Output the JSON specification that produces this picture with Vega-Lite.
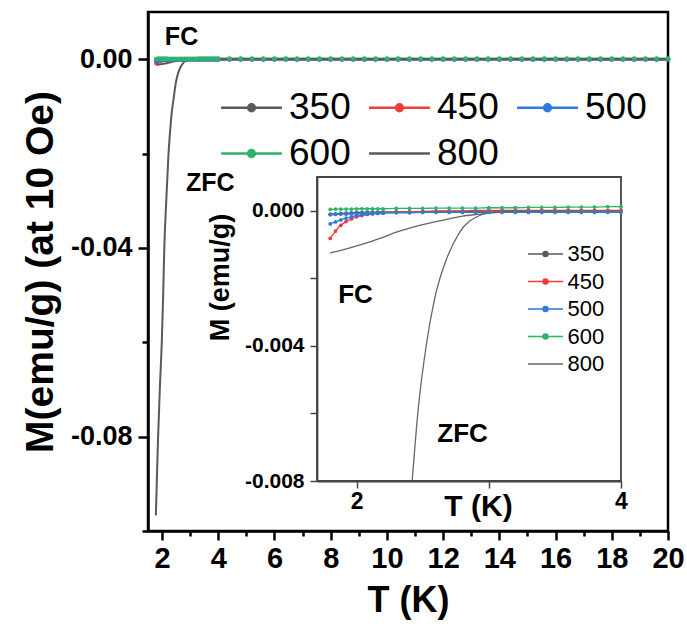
{
"$schema":"https://vega.github.io/schema/vega-lite/v6.json",
"width":520,"height":519,
"autosize":{"type":"none"},
"padding":{"left":148,"top":12,"right":19,"bottom":97},
"config":{"font":"Liberation Sans","view":{"stroke":"black","strokeWidth":2.5},
 "axis":{"grid":false,"domainColor":"black","tickColor":"black","labelColor":"black","titleColor":"black","labelFlush":false,"labelOverlap":false,"labelBound":false}},
"datasets":{
"d":[
{"s":"350","t":1.8,"m":-0.0001},{"s":"350","t":1.84,"m":-0.00009},{"s":"350","t":1.88,"m":-0.00008},{"s":"350","t":1.92,"m":-0.00007},{"s":"350","t":1.96,"m":-0.00006},{"s":"350","t":2.0,"m":-0.00005},{"s":"350","t":2.04,"m":-0.00005},{"s":"350","t":2.08,"m":-0.00004},{"s":"350","t":2.12,"m":-0.00004},{"s":"350","t":2.16,"m":-0.00004},{"s":"350","t":2.2,"m":-0.00003},{"s":"350","t":2.3,"m":-0.00003},{"s":"350","t":2.4,"m":-0.00003},{"s":"350","t":2.5,"m":-0.00003},{"s":"350","t":2.6,"m":-0.00002},{"s":"350","t":2.7,"m":-0.00002},{"s":"350","t":2.8,"m":-0.00002},{"s":"350","t":2.9,"m":-0.00002},{"s":"350","t":3.0,"m":-0.00001},{"s":"350","t":3.1,"m":-0.00001},{"s":"350","t":3.2,"m":-0.00001},{"s":"350","t":3.3,"m":-0.00001},{"s":"350","t":3.4,"m":-0.00001},{"s":"350","t":3.5,"m":0},{"s":"350","t":3.6,"m":0},{"s":"350","t":3.7,"m":0},{"s":"350","t":3.8,"m":0},{"s":"350","t":3.9,"m":0},{"s":"350","t":4.0,"m":0},
{"s":"350","t":4.4,"m":-0.00001},{"s":"350","t":4.8,"m":-0.00002},{"s":"350","t":5.2,"m":-0.00001},{"s":"350","t":5.6,"m":-0.00002},{"s":"350","t":6,"m":-0.00001},{"s":"350","t":6.4,"m":-0.00002},{"s":"350","t":6.8,"m":-0.00001},{"s":"350","t":7.2,"m":-0.00002},{"s":"350","t":7.6,"m":-0.00001},{"s":"350","t":8,"m":-0.00002},{"s":"350","t":8.4,"m":-0.00001},{"s":"350","t":8.8,"m":-0.00002},{"s":"350","t":9.2,"m":-0.00001},{"s":"350","t":9.6,"m":-0.00002},{"s":"350","t":10,"m":-0.00001},{"s":"350","t":10.4,"m":-0.00002},{"s":"350","t":10.8,"m":-0.00001},{"s":"350","t":11.2,"m":-0.00002},{"s":"350","t":11.6,"m":-0.00001},{"s":"350","t":12,"m":-0.00002},{"s":"350","t":12.4,"m":-0.00001},{"s":"350","t":12.8,"m":-0.00002},{"s":"350","t":13.2,"m":-0.00001},{"s":"350","t":13.6,"m":-0.00002},{"s":"350","t":14,"m":-0.00001},{"s":"350","t":14.4,"m":-0.00002},{"s":"350","t":14.8,"m":-0.00001},{"s":"350","t":15.2,"m":-0.00002},{"s":"350","t":15.6,"m":-0.00001},{"s":"350","t":16,"m":-0.00002},{"s":"350","t":16.4,"m":-0.00001},{"s":"350","t":16.8,"m":-0.00002},{"s":"350","t":17.2,"m":-0.00001},{"s":"350","t":17.6,"m":-0.00002},{"s":"350","t":18,"m":-0.00001},{"s":"350","t":18.4,"m":-0.00002},{"s":"350","t":18.8,"m":-0.00001},{"s":"350","t":19.2,"m":-0.00002},{"s":"350","t":19.6,"m":-0.00001},{"s":"350","t":20,"m":-0.00002},
{"s":"450","t":1.8,"m":-0.00082},{"s":"450","t":1.84,"m":-0.0006},{"s":"450","t":1.88,"m":-0.00043},{"s":"450","t":1.92,"m":-0.00032},{"s":"450","t":1.96,"m":-0.00024},{"s":"450","t":2.0,"m":-0.00018},{"s":"450","t":2.04,"m":-0.00014},{"s":"450","t":2.08,"m":-0.00011},{"s":"450","t":2.12,"m":-0.00009},{"s":"450","t":2.16,"m":-0.00007},{"s":"450","t":2.2,"m":-0.00006},{"s":"450","t":2.3,"m":-0.00004},{"s":"450","t":2.4,"m":-0.00003},{"s":"450","t":2.5,"m":-0.00002},{"s":"450","t":2.6,"m":-0.00001},{"s":"450","t":2.7,"m":0},{"s":"450","t":2.8,"m":0},{"s":"450","t":2.9,"m":0.00001},{"s":"450","t":3.0,"m":0.00001},{"s":"450","t":3.1,"m":0.00001},{"s":"450","t":3.2,"m":0.00001},{"s":"450","t":3.3,"m":0.00001},{"s":"450","t":3.4,"m":0.00001},{"s":"450","t":3.5,"m":0.00001},{"s":"450","t":3.6,"m":0.00001},{"s":"450","t":3.7,"m":0.00001},{"s":"450","t":3.8,"m":0.00001},{"s":"450","t":3.9,"m":0.00001},{"s":"450","t":4.0,"m":0.00001},
{"s":"450","t":4.4,"m":0.00001},{"s":"450","t":4.8,"m":0.00002},{"s":"450","t":5.2,"m":0.00001},{"s":"450","t":5.6,"m":0.00002},{"s":"450","t":6,"m":0.00001},{"s":"450","t":6.4,"m":0.00002},{"s":"450","t":6.8,"m":0.00001},{"s":"450","t":7.2,"m":0.00002},{"s":"450","t":7.6,"m":0.00001},{"s":"450","t":8,"m":0.00002},{"s":"450","t":8.4,"m":0.00001},{"s":"450","t":8.8,"m":0.00002},{"s":"450","t":9.2,"m":0.00001},{"s":"450","t":9.6,"m":0.00002},{"s":"450","t":10,"m":0.00001},{"s":"450","t":10.4,"m":0.00002},{"s":"450","t":10.8,"m":0.00001},{"s":"450","t":11.2,"m":0.00002},{"s":"450","t":11.6,"m":0.00001},{"s":"450","t":12,"m":0.00002},{"s":"450","t":12.4,"m":0.00001},{"s":"450","t":12.8,"m":0.00002},{"s":"450","t":13.2,"m":0.00001},{"s":"450","t":13.6,"m":0.00002},{"s":"450","t":14,"m":0.00001},{"s":"450","t":14.4,"m":0.00002},{"s":"450","t":14.8,"m":0.00001},{"s":"450","t":15.2,"m":0.00002},{"s":"450","t":15.6,"m":0.00001},{"s":"450","t":16,"m":0.00002},{"s":"450","t":16.4,"m":0.00001},{"s":"450","t":16.8,"m":0.00002},{"s":"450","t":17.2,"m":0.00001},{"s":"450","t":17.6,"m":0.00002},{"s":"450","t":18,"m":0.00001},{"s":"450","t":18.4,"m":0.00002},{"s":"450","t":18.8,"m":0.00001},{"s":"450","t":19.2,"m":0.00002},{"s":"450","t":19.6,"m":0.00001},{"s":"450","t":20,"m":0.00002},
{"s":"500","t":1.8,"m":-0.00039},{"s":"500","t":1.84,"m":-0.00033},{"s":"500","t":1.88,"m":-0.00027},{"s":"500","t":1.92,"m":-0.00022},{"s":"500","t":1.96,"m":-0.00018},{"s":"500","t":2.0,"m":-0.00014},{"s":"500","t":2.04,"m":-0.00012},{"s":"500","t":2.08,"m":-0.0001},{"s":"500","t":2.12,"m":-0.00009},{"s":"500","t":2.16,"m":-0.00008},{"s":"500","t":2.2,"m":-0.00007},{"s":"500","t":2.3,"m":-0.00006},{"s":"500","t":2.4,"m":-0.00006},{"s":"500","t":2.5,"m":-0.00005},{"s":"500","t":2.6,"m":-0.00005},{"s":"500","t":2.7,"m":-0.00005},{"s":"500","t":2.8,"m":-0.00005},{"s":"500","t":2.9,"m":-0.00005},{"s":"500","t":3.0,"m":-0.00005},{"s":"500","t":3.1,"m":-0.00005},{"s":"500","t":3.2,"m":-0.00005},{"s":"500","t":3.3,"m":-0.00005},{"s":"500","t":3.4,"m":-0.00005},{"s":"500","t":3.5,"m":-0.00005},{"s":"500","t":3.6,"m":-0.00005},{"s":"500","t":3.7,"m":-0.00005},{"s":"500","t":3.8,"m":-0.00005},{"s":"500","t":3.9,"m":-0.00005},{"s":"500","t":4.0,"m":-0.00005},
{"s":"500","t":4.4,"m":-0.00005},{"s":"500","t":4.8,"m":-0.00006},{"s":"500","t":5.2,"m":-0.00005},{"s":"500","t":5.6,"m":-0.00006},{"s":"500","t":6,"m":-0.00005},{"s":"500","t":6.4,"m":-0.00006},{"s":"500","t":6.8,"m":-0.00005},{"s":"500","t":7.2,"m":-0.00006},{"s":"500","t":7.6,"m":-0.00005},{"s":"500","t":8,"m":-0.00006},{"s":"500","t":8.4,"m":-0.00005},{"s":"500","t":8.8,"m":-0.00006},{"s":"500","t":9.2,"m":-0.00005},{"s":"500","t":9.6,"m":-0.00006},{"s":"500","t":10,"m":-0.00005},{"s":"500","t":10.4,"m":-0.00006},{"s":"500","t":10.8,"m":-0.00005},{"s":"500","t":11.2,"m":-0.00006},{"s":"500","t":11.6,"m":-0.00005},{"s":"500","t":12,"m":-0.00006},{"s":"500","t":12.4,"m":-0.00005},{"s":"500","t":12.8,"m":-0.00006},{"s":"500","t":13.2,"m":-0.00005},{"s":"500","t":13.6,"m":-0.00006},{"s":"500","t":14,"m":-0.00005},{"s":"500","t":14.4,"m":-0.00006},{"s":"500","t":14.8,"m":-0.00005},{"s":"500","t":15.2,"m":-0.00006},{"s":"500","t":15.6,"m":-0.00005},{"s":"500","t":16,"m":-0.00006},{"s":"500","t":16.4,"m":-0.00005},{"s":"500","t":16.8,"m":-0.00006},{"s":"500","t":17.2,"m":-0.00005},{"s":"500","t":17.6,"m":-0.00006},{"s":"500","t":18,"m":-0.00005},{"s":"500","t":18.4,"m":-0.00006},{"s":"500","t":18.8,"m":-0.00005},{"s":"500","t":19.2,"m":-0.00006},{"s":"500","t":19.6,"m":-0.00005},{"s":"500","t":20,"m":-0.00006},
{"s":"500","b":"b","t":1.8,"m":-0.00012},{"s":"500","b":"b","t":1.84,"m":-0.00011},{"s":"500","b":"b","t":1.88,"m":-0.0001},{"s":"500","b":"b","t":1.92,"m":-0.0001},{"s":"500","b":"b","t":1.96,"m":-0.00009},{"s":"500","b":"b","t":2.0,"m":-0.00009},{"s":"500","b":"b","t":2.04,"m":-0.00008},{"s":"500","b":"b","t":2.08,"m":-0.00008},{"s":"500","b":"b","t":2.12,"m":-0.00007},{"s":"500","b":"b","t":2.16,"m":-0.00007},{"s":"500","b":"b","t":2.2,"m":-0.00007},
{"s":"600","t":1.8,"m":0.00004},{"s":"600","t":1.84,"m":0.00005},{"s":"600","t":1.88,"m":0.00005},{"s":"600","t":1.92,"m":0.00005},{"s":"600","t":1.96,"m":0.00005},{"s":"600","t":2.0,"m":0.00006},{"s":"600","t":2.04,"m":0.00006},{"s":"600","t":2.08,"m":0.00006},{"s":"600","t":2.12,"m":0.00006},{"s":"600","t":2.16,"m":0.00006},{"s":"600","t":2.2,"m":0.00006},{"s":"600","t":2.3,"m":0.00007},{"s":"600","t":2.4,"m":0.00007},{"s":"600","t":2.5,"m":0.00007},{"s":"600","t":2.6,"m":0.00008},{"s":"600","t":2.7,"m":0.00008},{"s":"600","t":2.8,"m":0.00008},{"s":"600","t":2.9,"m":0.00008},{"s":"600","t":3.0,"m":0.00009},{"s":"600","t":3.1,"m":0.00009},{"s":"600","t":3.2,"m":0.00009},{"s":"600","t":3.3,"m":0.0001},{"s":"600","t":3.4,"m":0.0001},{"s":"600","t":3.5,"m":0.0001},{"s":"600","t":3.6,"m":0.00011},{"s":"600","t":3.7,"m":0.00011},{"s":"600","t":3.8,"m":0.00011},{"s":"600","t":3.9,"m":0.00012},{"s":"600","t":4.0,"m":0.00012},
{"s":"600","t":4.4,"m":0.00012},{"s":"600","t":4.8,"m":0.00013},{"s":"600","t":5.2,"m":0.00012},{"s":"600","t":5.6,"m":0.00013},{"s":"600","t":6,"m":0.00012},{"s":"600","t":6.4,"m":0.00013},{"s":"600","t":6.8,"m":0.00012},{"s":"600","t":7.2,"m":0.00013},{"s":"600","t":7.6,"m":0.00012},{"s":"600","t":8,"m":0.00013},{"s":"600","t":8.4,"m":0.00012},{"s":"600","t":8.8,"m":0.00013},{"s":"600","t":9.2,"m":0.00012},{"s":"600","t":9.6,"m":0.00013},{"s":"600","t":10,"m":0.00012},{"s":"600","t":10.4,"m":0.00013},{"s":"600","t":10.8,"m":0.00012},{"s":"600","t":11.2,"m":0.00013},{"s":"600","t":11.6,"m":0.00012},{"s":"600","t":12,"m":0.00013},{"s":"600","t":12.4,"m":0.00012},{"s":"600","t":12.8,"m":0.00013},{"s":"600","t":13.2,"m":0.00012},{"s":"600","t":13.6,"m":0.00013},{"s":"600","t":14,"m":0.00012},{"s":"600","t":14.4,"m":0.00013},{"s":"600","t":14.8,"m":0.00012},{"s":"600","t":15.2,"m":0.00013},{"s":"600","t":15.6,"m":0.00012},{"s":"600","t":16,"m":0.00013},{"s":"600","t":16.4,"m":0.00012},{"s":"600","t":16.8,"m":0.00013},{"s":"600","t":17.2,"m":0.00012},{"s":"600","t":17.6,"m":0.00013},{"s":"600","t":18,"m":0.00012},{"s":"600","t":18.4,"m":0.00013},{"s":"600","t":18.8,"m":0.00012},{"s":"600","t":19.2,"m":0.00013},{"s":"600","t":19.6,"m":0.00012},{"s":"600","t":20,"m":0.00013},
{"s":"800","b":"Z","t":1.78,"m":-0.0967},{"s":"800","b":"Z","t":1.82,"m":-0.088},{"s":"800","b":"Z","t":1.86,"m":-0.08},{"s":"800","b":"Z","t":1.92,"m":-0.07},{"s":"800","b":"Z","t":1.99,"m":-0.06},{"s":"800","b":"Z","t":2.04,"m":-0.05},{"s":"800","b":"Z","t":2.08,"m":-0.04},{"s":"800","b":"Z","t":2.15,"m":-0.03},{"s":"800","b":"Z","t":2.23,"m":-0.02},{"s":"800","b":"Z","t":2.29,"m":-0.015},{"s":"800","b":"Z","t":2.35,"m":-0.011},{"s":"800","b":"Z","t":2.42,"m":-0.008},{"s":"800","b":"Z","t":2.465,"m":-0.0059},{"s":"800","b":"Z","t":2.53,"m":-0.0039},{"s":"800","b":"Z","t":2.59,"m":-0.0026},{"s":"800","b":"Z","t":2.68,"m":-0.00143},{"s":"800","b":"Z","t":2.78,"m":-0.00063},{"s":"800","b":"Z","t":2.93,"m":-0.00014},{"s":"800","b":"Z","t":3.03,"m":-0.00004},{"s":"800","b":"Z","t":3.13,"m":0},{"s":"800","b":"Z","t":4,"m":0},{"s":"800","b":"Z","t":8,"m":0},{"s":"800","b":"Z","t":12,"m":0},{"s":"800","b":"Z","t":16,"m":0},{"s":"800","b":"Z","t":20,"m":0},
{"s":"800","b":"F","t":1.8,"m":-0.00125},{"s":"800","b":"F","t":1.9,"m":-0.00115},{"s":"800","b":"F","t":2.0,"m":-0.00104},{"s":"800","b":"F","t":2.1,"m":-0.00092},{"s":"800","b":"F","t":2.2,"m":-0.00079},{"s":"800","b":"F","t":2.3,"m":-0.00063},{"s":"800","b":"F","t":2.4,"m":-0.00051},{"s":"800","b":"F","t":2.5,"m":-0.00041},{"s":"800","b":"F","t":2.6,"m":-0.00032},{"s":"800","b":"F","t":2.7,"m":-0.00024},{"s":"800","b":"F","t":2.8,"m":-0.00016},{"s":"800","b":"F","t":2.9,"m":-0.00011},{"s":"800","b":"F","t":3.0,"m":-0.00007},{"s":"800","b":"F","t":3.1,"m":-0.00004},{"s":"800","b":"F","t":3.2,"m":-0.00002},{"s":"800","b":"F","t":3.4,"m":-0.00001},{"s":"800","b":"F","t":3.6,"m":0},{"s":"800","b":"F","t":4,"m":0},{"s":"800","b":"F","t":8,"m":0},{"s":"800","b":"F","t":12,"m":0},{"s":"800","b":"F","t":16,"m":0},{"s":"800","b":"F","t":20,"m":0}
],
"frame":[{"t":1.7,"t2":4,"m":-0.008,"m2":0.001}],
"n1":[{"txt":"FC","t":2.1,"m":0.0047},{"txt":"ZFC","t":2.85,"m":-0.0262}],
"n2":[{"txt":"FC","t":1.86,"m":-0.0025},{"txt":"ZFC","t":2.61,"m":-0.0066}]
},
"layer":[
{"encoding":{
  "x":{"field":"t","type":"quantitative","scale":{"domain":[1.5,20],"nice":false,"zero":false},
   "axis":{"values":[2,3,4,5,6,7,8,9,10,11,12,13,14,15,16,17,18,19,20],"labelExpr":"datum.value % 2 === 0 ? datum.label : ''",
    "tickSize":{"condition":{"test":"datum.value % 2 !== 0","value":5},"value":9},"tickWidth":2.5,"domainWidth":2.5,
    "labelFont":"Liberation Sans Narrow, Liberation Sans","labelFontSize":29,"labelFontWeight":"bold","labelPadding":4,
    "title":"T (K)","titleFont":"Liberation Sans Narrow, Liberation Sans","titleFontSize":36,"titleFontWeight":"bold","titlePadding":10}},
  "y":{"field":"m","type":"quantitative","scale":{"domain":[-0.1,0.01],"nice":false,"zero":false},
   "axis":{"values":[0,-0.02,-0.04,-0.06,-0.08,-0.1],
    "labelExpr":"abs(round(datum.value*100)) % 4 === 2 ? '' : (datum.value < 0 ? '-' : '') + format(abs(datum.value), '.2f')",
    "tickSize":{"condition":{"test":"abs(round(datum.value*100)) % 4 === 2","value":6},"value":10},"tickWidth":2.5,"domainWidth":2.5,
    "labelFontSize":27,"labelFontWeight":"bold","labelPadding":6,
    "title":"M(emu/g) (at 10 Oe)","titleFontSize":39,"titleFontWeight":"bold","titlePadding":10}}},
 "layer":[
  {"data":{"name":"d"},"mark":{"type":"line","strokeWidth":2,"interpolate":"monotone"},
   "encoding":{"color":{"field":"s","type":"nominal","scale":{"domain":["350","450","500","600","800"],"range":["#5a5a5a","#f03c3c","#2d7ae0","#2bb56a","#5a5a5a"]},
     "legend":{"title":null,"orient":"none","legendX":85,"legendY":77,"direction":"horizontal","columns":3,"padding":0,
      "symbolType":"M-1.79,0H1.79M-0.2,0A0.2,0.2 0 1 1 0.2,0A0.2,0.2 0 1 1 -0.2,0","symbolSize":1156,"symbolStrokeWidth":2.5,
      "labelFont":"Liberation Sans","labelFontSize":37,"labelColor":"black","labelOffset":19,"columnPadding":13,"rowPadding":8,
      "encode":{"symbols":{"update":{"fill":{"value":"white"},"shape":[{"test":"datum.value === '800'","value":"M-1.79,0H1.79"},{"value":"M-1.79,0H1.79M-0.2,0A0.2,0.2 0 1 1 0.2,0A0.2,0.2 0 1 1 -0.2,0"}]}}}}},
    "detail":{"field":"b","type":"nominal"}}},
  {"data":{"name":"d"},"transform":[{"filter":"datum.s !== '800'"}],"mark":{"type":"point","filled":true,"size":22,"opacity":1},
   "encoding":{"color":{"field":"s","type":"nominal"}}},
  {"data":{"name":"n1"},"mark":{"type":"text","align":"left","baseline":"middle","fontSize":25,"fontWeight":"bold","color":"black"},
   "encoding":{"text":{"field":"txt","type":"nominal"}}}
 ]},
{"encoding":{
  "x":{"field":"t","type":"quantitative","scale":{"domain":[1.7,4],"range":[169,473],"nice":false,"zero":false},
   "axis":{"orient":"bottom","offset":-50,"zindex":1,"values":[2,3,4],"labelExpr":"datum.value === 3 ? '' : datum.label",
    "tickSize":7,"tickWidth":1.5,"domainWidth":1.8,"domainColor":"#444","tickColor":"#444",
    "labelFontSize":23,"labelFontWeight":"bold","labelPadding":2,
    "title":"T (K)","titleFontSize":30,"titleFontWeight":"bold","titlePadding":-22,"titleX":330}},
  "y":{"field":"m","type":"quantitative","scale":{"domain":[-0.008,0.001],"range":[469,165],"nice":false,"zero":false},
   "axis":{"orient":"left","offset":-169,"zindex":1,"values":[0,-0.002,-0.004,-0.006,-0.008],
    "labelExpr":"abs(round(datum.value*1000)) % 4 === 2 ? '' : (datum.value < 0 ? '-' : '') + format(abs(datum.value), '.3f')",
    "tickSize":7,"tickWidth":1.5,"domainWidth":1.8,"domainColor":"#444","tickColor":"#444",
    "labelFontSize":21,"labelFontWeight":"bold","labelPadding":6,
    "title":"M (emu/g)","titleFontSize":27,"titleFontWeight":"bold","titlePadding":10,"titleY":265}}},
 "layer":[
  {"data":{"name":"frame"},"mark":{"type":"rect","fill":"white","stroke":"#444","strokeWidth":1.8},
   "encoding":{"x2":{"field":"t2"},"y2":{"field":"m2"}}},
  {"data":{"name":"d"},"transform":[{"filter":"datum.t <= 4.001 && datum.m >= -0.00801"}],"mark":{"type":"line","strokeWidth":1.3,"interpolate":"monotone"},
   "encoding":{"color":{"field":"s","type":"nominal","scale":{"domain":["350","450","500","600","800"],"range":["#5a5a5a","#f03c3c","#2d7ae0","#2bb56a","#666666"]},
     "legend":{"title":null,"orient":"none","legendX":386.5,"legendY":231,"direction":"vertical","padding":0,
      "symbolType":"M-1.75,0H1.75M-0.25,0A0.25,0.25 0 1 1 0.25,0A0.25,0.25 0 1 1 -0.25,0","symbolSize":400,"symbolStrokeWidth":1.5,
      "labelFont":"Liberation Sans","labelFontSize":22,"labelColor":"black","labelOffset":11,"rowPadding":5.5,
      "encode":{"symbols":{"update":{"fill":{"value":"white"},"shape":[{"test":"datum.value === '800'","value":"M-1.75,0H1.75"},{"value":"M-1.75,0H1.75M-0.25,0A0.25,0.25 0 1 1 0.25,0A0.25,0.25 0 1 1 -0.25,0"}]}}}}},
    "detail":{"field":"b","type":"nominal"}}},
  {"data":{"name":"d"},"transform":[{"filter":"datum.t <= 4.001 && datum.s !== '800'"}],"mark":{"type":"point","filled":true,"size":14,"opacity":1},
   "encoding":{"color":{"field":"s","type":"nominal"}}},
  {"data":{"name":"n2"},"mark":{"type":"text","align":"left","baseline":"middle","fontSize":26,"fontWeight":"bold","color":"black"},
   "encoding":{"text":{"field":"txt","type":"nominal"}}}
 ]}
],
"resolve":{"scale":{"x":"independent","y":"independent","color":"independent"}}
}
